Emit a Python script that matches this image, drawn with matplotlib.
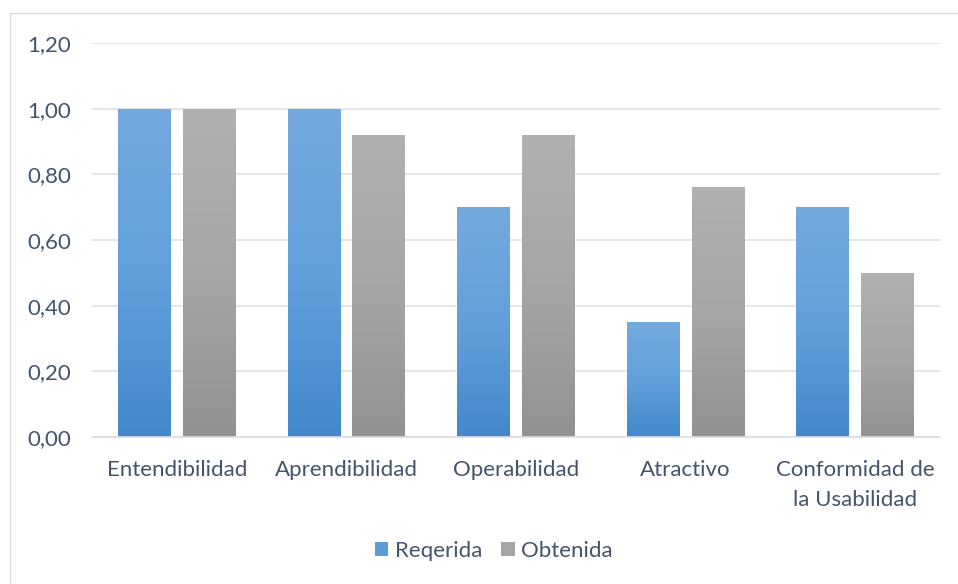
import numpy as np
import matplotlib
matplotlib.use("Agg")
import matplotlib.pyplot as plt
from matplotlib.colors import LinearSegmentedColormap
from matplotlib.patches import Rectangle

categories = ["Entendibilidad", "Aprendibilidad", "Operabilidad", "Atractivo",
              "Conformidad de\nla Usabilidad"]
requerida = [1.00, 1.00, 0.70, 0.35, 0.70]
obtenida = [1.00, 0.92, 0.92, 0.76, 0.50]
series_names = ["Reqerida", "Obtenida"]
yticks = [0.0, 0.2, 0.4, 0.6, 0.8, 1.0, 1.2]

plt.rcParams['font.family'] = ['Lato', 'DejaVu Sans']
text_color = "#44546A"
fs = 16

W, H = 958, 584
fig = plt.figure(figsize=(W / 100, H / 100), dpi=100)
ax = fig.add_axes([92 / W, 1 - 437 / H, (940 - 92) / W, (437 - 43) / H])

x = np.arange(len(categories))
bw = 53 / 170
gap = 12 / 170
off = (bw + gap) / 2

blue_cmap = LinearSegmentedColormap.from_list("b", ["#4288CB", "#62A0DC", "#74A9DE"])
gray_cmap = LinearSegmentedColormap.from_list("g", ["#929292", "#A6A6A6", "#B1B1B1"])

b1 = ax.bar(x - off, requerida, bw, color="#5B9BD5", zorder=2)
b2 = ax.bar(x + off, obtenida, bw, color="#A5A5A5", zorder=2)

grad = np.linspace(0, 1, 256).reshape(-1, 1)
for bars, cmap in ((b1, blue_cmap), (b2, gray_cmap)):
    for p in bars:
        x0, y0 = p.get_x(), p.get_y()
        w, h = p.get_width(), p.get_height()
        p.set_facecolor("none")
        im = ax.imshow(grad, cmap=cmap, origin="lower", aspect="auto",
                       extent=(x0, x0 + w, y0, y0 + h), zorder=2)
        im.set_clip_path(p)

ax.set_xlim(-0.5, len(categories) - 0.5)
ax.set_ylim(0, 1.2)
ax.set_yticks(yticks)
ax.set_yticklabels([f"{v:.2f}".replace(".", ",") for v in yticks])
ax.set_xticks(x)
ax.set_xticklabels(categories)
ax.tick_params(axis="both", length=0, labelsize=fs, colors=text_color)
ax.tick_params(axis="y", pad=15)
ax.tick_params(axis="x", pad=16.5)
for lab in ax.get_xticklabels():
    lab.set_linespacing(1.62)
    lab.set_verticalalignment("top")
ax.yaxis.grid(True, color="#DDE2E8", linewidth=1.2, zorder=0)
ax.set_axisbelow(True)
for s in ("top", "right", "left"):
    ax.spines[s].set_visible(False)
ax.spines["bottom"].set_color("#D9DEE4")
ax.spines["bottom"].set_linewidth(1.2)

# chart border
fig.patches.append(Rectangle((9.5 / W, -0.1), 1.2, 1 - 13.5 / H + 0.1,
                             transform=fig.transFigure, fill=False,
                             edgecolor="#D9D9D9", linewidth=1.0))

handles = [Rectangle((0, 0), 1, 1, facecolor="#5B9BD5"),
           Rectangle((0, 0), 1, 1, facecolor="#A5A5A5")]
fig.legend(handles, series_names, loc="center", bbox_to_anchor=(494 / W, 1 - 551 / H),
           ncol=2, frameon=False, fontsize=fs, labelcolor=text_color,
           handlelength=0.6, handleheight=0.6, handletextpad=0.3,
           columnspacing=0.85)

fig.savefig("out.png", dpi=100)
